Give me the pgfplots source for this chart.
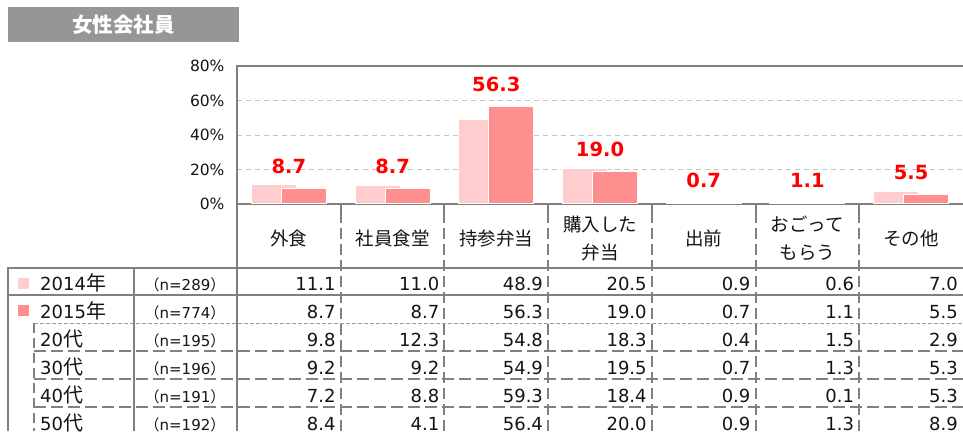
\documentclass[border=0pt]{standalone}
\usepackage{pgfplots}
\pgfplotsset{compat=1.18}
\usepackage{fontspec}
\setmainfont{DejaVu Sans}
\newfontfamily\jp{Noto Sans CJK JP}
\definecolor{pinkA}{RGB}{255,205,205}
\definecolor{pinkB}{RGB}{255,143,143}
\definecolor{lgray}{RGB}{128,128,128}
\definecolor{ggray}{RGB}{195,195,195}
\definecolor{tgray}{RGB}{150,150,150}
\definecolor{txt}{RGB}{20,20,20}
\begin{document}
\begin{tikzpicture}
\useasboundingbox (0,0) rectangle (963pt,431pt);
\begin{axis}[
  at={(237pt,227pt)}, anchor=south west,
  width=726pt, height=138pt, scale only axis,
  xmin=-0.5, xmax=6.5, ymin=0, ymax=80,
  axis line style={draw=none},
  xtick=\empty,
  ytick={0,20,40,60,80},
  yticklabel={\pgfmathprintnumber{\tick}\%},
  yticklabel style={font=\fontsize{15.5}{15.5}\selectfont, text=txt, anchor=east, xshift=-9pt},
  major tick length=0pt,
  clip=false,
  /pgf/number format/assume math mode=true,
]
\foreach \g in {20,40,60}{
  \edef\tmp{\noexpand\draw[ggray, line width=1pt, dash pattern=on 5pt off 4pt] (axis cs:-0.5,\g) -- (axis cs:6.5,\g);}
  \tmp
}
\draw[lgray, line width=2pt] (axis cs:-0.5,0) -- (axis cs:6.5,0);
\addplot[ybar, bar width=45pt, bar shift=-15pt, fill=pinkA, draw=white, line width=1pt]
  coordinates {(0,11.1) (1,11.0) (2,48.9) (3,20.5) (4,0.9) (5,0.6) (6,7.0)};
\addplot[ybar, bar width=45pt, bar shift=15pt, fill=pinkB, draw=white, line width=1pt,
  nodes near coords={\pgfmathprintnumber[fixed,fixed zerofill,precision=1,assume math mode=true]{\pgfplotspointmeta}},
  nodes near coords style={font=\fontsize{19.5}{19.5}\selectfont\bfseries, text=red, anchor=base, inner sep=0pt, yshift=15pt}]
  coordinates {(0,8.7) (1,8.7) (2,56.3) (3,19.0) (4,0.7) (5,1.1) (6,5.5)};
\end{axis}
\begin{scope}[x=1pt,y=-1pt,yshift=431pt]
% title box
\fill[tgray] (8,7) rectangle (239,42);
\node[text=white, font=\jp\bfseries\fontsize{20.5}{20.5}\selectfont, anchor=base] at (123.5,32.5) {女性会社員};
% frame
\draw[lgray, line width=2pt] (236,66) -- (963,66);
\draw[lgray, line width=2pt] (237,65) -- (237,431);
% category boundaries
\foreach \k in {1,...,6}{
  \pgfmathsetmacro\xx{237+103.714*\k}
  \draw[lgray, line width=2pt] (\xx,204) -- (\xx,212);
  \draw[lgray, line width=2pt, dash pattern=on 11pt off 5pt] (\xx,212) -- (\xx,431);
}
% table lines
\draw[lgray, line width=2pt] (8,268) -- (963,268);
\draw[lgray, line width=2pt] (8,295) -- (963,295);
\draw[lgray, line width=2pt] (8,267) -- (8,431);
\draw[lgray, line width=2pt] (134,268) -- (134,431);
\draw[lgray!80, line width=0.9pt, dash pattern=on 4pt off 2pt] (34,323) -- (963,323);
\draw[lgray, line width=1.2pt, dash pattern=on 10pt off 5pt] (34,323) -- (34,431);
\foreach \yy in {351,379,407}{
  \draw[lgray, line width=2pt, dash pattern=on 12pt off 5pt] (34,\yy) -- (963,\yy);
}
% legend squares
\fill[pinkA] (17.5,278.5) rectangle (28.5,289.5);
\fill[pinkB] (17.5,305.5) rectangle (28.5,316.5);
% header labels
\node[anchor=base, font=\jp\fontsize{18.5}{18.5}\selectfont, text=txt] at (288.9,246) {外食};
\node[anchor=base, font=\jp\fontsize{18.5}{18.5}\selectfont, text=txt] at (392.6,246) {社員食堂};
\node[anchor=base, font=\jp\fontsize{18.5}{18.5}\selectfont, text=txt] at (496.3,246) {持参弁当};
\node[anchor=base, font=\jp\fontsize{18.5}{18.5}\selectfont, text=txt] at (600.0,232) {購入した};
\node[anchor=base, font=\jp\fontsize{18.5}{18.5}\selectfont, text=txt] at (600.0,260) {弁当};
\node[anchor=base, font=\jp\fontsize{18.5}{18.5}\selectfont, text=txt] at (703.7,246) {出前};
\node[anchor=base, font=\jp\fontsize{18.5}{18.5}\selectfont, text=txt] at (807.4,232) {おごって};
\node[anchor=base, font=\jp\fontsize{18.5}{18.5}\selectfont, text=txt] at (807.4,260) {もらう};
\node[anchor=base, font=\jp\fontsize{18.5}{18.5}\selectfont, text=txt] at (911.1,246) {その他};
% row labels
\foreach \lab/\kan/\n/\yb in {2014/年/289/290.5, 2015/年/774/318.5, 20/代/195/346.5, 30/代/196/374.5, 40/代/191/402.5, 50/代/192/430.5}{
  \node[anchor=base west, inner sep=0pt, text=txt] at (40,\yb) {\fontsize{18}{18}\selectfont\lab{\jp\fontsize{20}{20}\selectfont\kan}};
  \node[anchor=base, inner sep=0pt, text=txt] at (185,\yb) {{\jp\fontsize{15}{15}\selectfont （}\fontsize{15}{15}\selectfont n=\n{\jp\fontsize{15}{15}\selectfont ）}};
}
% numbers
\foreach \yb/\vals in {290.5/{11.1,11.0,48.9,20.5,0.9,0.6,7.0},
                       318.5/{8.7,8.7,56.3,19.0,0.7,1.1,5.5},
                       346.5/{9.8,12.3,54.8,18.3,0.4,1.5,2.9},
                       374.5/{9.2,9.2,54.9,19.5,0.7,1.3,5.3},
                       402.5/{7.2,8.8,59.3,18.4,0.9,0.1,5.3},
                       430.5/{8.4,4.1,56.4,20.0,0.9,1.3,8.9}}{
  \foreach \v [count=\k] in \vals {
    \pgfmathsetmacro\xx{237+103.714*\k-5}
    \node[anchor=base east, inner sep=0pt, text=txt, font=\fontsize{18}{18}\selectfont] at (\xx,\yb) {\v};
  }
}
\end{scope}
\end{tikzpicture}
\end{document}
